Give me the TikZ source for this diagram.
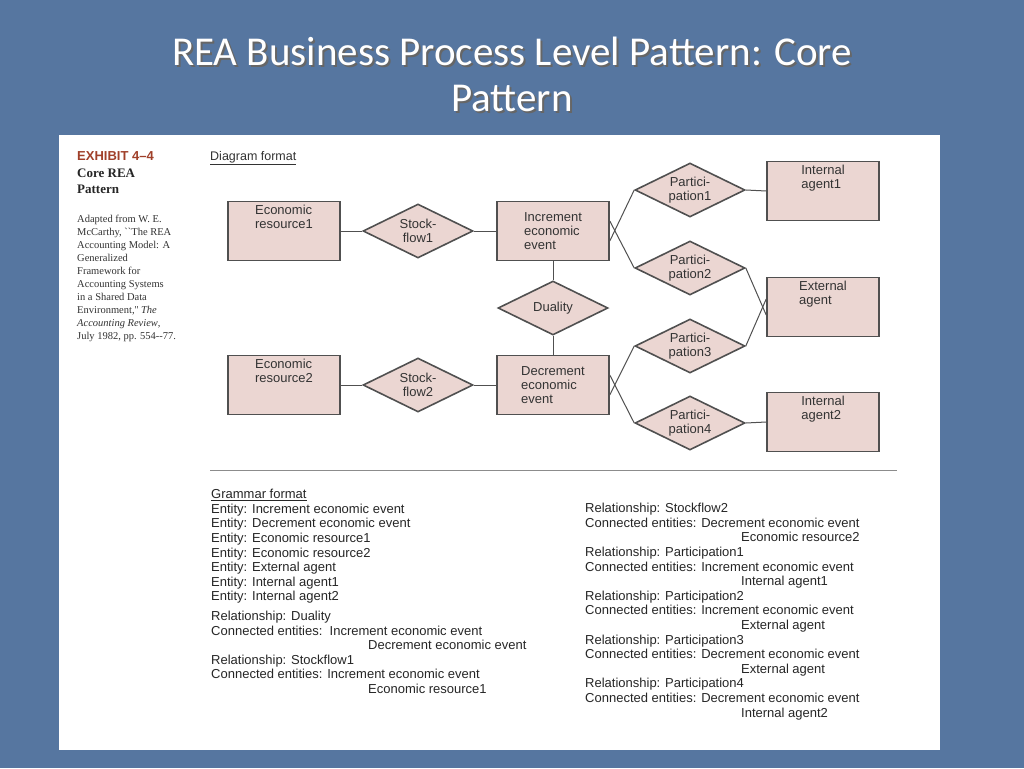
\documentclass[tikz,border=0pt]{standalone}
\usepackage{fontspec}
\setmainfont{Liberation Sans}
\newfontfamily\serifx{Liberation Serif}
\newfontfamily\titlef{Carlito}
\usetikzlibrary{shapes.geometric}
\definecolor{bg}{HTML}{5676A0}
\definecolor{boxfill}{HTML}{EBD6D2}
\definecolor{edge}{HTML}{505050}
\definecolor{exh}{HTML}{A0402A}
\tikzset{
 ent/.style={draw=edge,line width=1.6pt,fill=boxfill,minimum width=112pt,minimum height=59pt,align=left,font=\fontsize{13}{14}\selectfont,text=black!80,inner sep=0pt},
 rel/.style={draw=edge,line width=1.6pt,fill=boxfill,diamond,aspect=2,minimum width=110pt,minimum height=54pt,inner sep=0pt,align=center,font=\fontsize{13}{14}\selectfont,text=black!80},
 conn/.style={draw=edge,line width=1pt},
 gram/.style={anchor=west,font=\fontsize{13}{14.6}\selectfont,align=left,text=black!85,inner sep=0pt}
}
\begin{document}
\begin{tikzpicture}[x=1pt,y=-1pt]
\fill[bg] (0,0) rectangle (1024,768);
\useasboundingbox (0,0) rectangle (1024,768);
\node[text=black!60,font=\titlef\fontsize{41}{46}\selectfont,align=center] at (514,76) {REA Business Process Level Pattern: Core\\Pattern};
\node (title) [text=white,font=\titlef\fontsize{41}{46}\selectfont,align=center] at (512,74) {REA Business Process Level Pattern: Core\\Pattern};
\fill[white] (59,135) rectangle (940,750);
% side text
\node (exhibit) [anchor=north west,inner sep=0pt,text=exh,font=\bfseries\fontsize{13}{15}\selectfont] at (77,151) {EXHIBIT 4--4};
\node (core) [anchor=north west,inner sep=0pt,align=left,font=\serifx\bfseries\fontsize{13}{16}\selectfont,text=black!85] at (77,169) {Core REA\\Pattern};
\node (adapt) [anchor=north west,inner sep=0pt,align=left,font=\serifx\fontsize{10.5}{13}\selectfont,text=black!80] at (77,215) {Adapted from W. E.\\McCarthy, ``The REA\\Accounting Model: A\\Generalized\\Framework for\\Accounting Systems\\in a Shared Data\\Environment,'' \textit{The}\\\textit{Accounting Review},\\July 1982, pp. 554--77.};
\node (dfmt) [anchor=north west,inner sep=0pt,font=\fontsize{12.5}{14}\selectfont,text=black!80] at (210,151) {\underline{Diagram format}};
% entities
\node[ent] (er1) at (284,231) {Economic\\resource1\\[14pt]};
\node[ent] (inc) at (553,231) {Increment\\economic\\event};
\node[ent] (ia1) at (823,191) {Internal\\agent1\\[14pt]};
\node[ent] (ext) at (823,307) {External\\agent\\[14pt]};
\node[ent] (er2) at (284,385) {Economic\\resource2\\[14pt]};
\node[ent] (dec) at (553,385) {Decrement\\economic\\event};
\node[ent] (ia2) at (823,422) {Internal\\agent2\\[14pt]};
% relationships
\node[rel] (sf1) at (418,231) {Stock-\\flow1};
\node[rel] (dua) at (553,308) {Duality};
\node[rel] (sf2) at (418,385) {Stock-\\flow2};
\node[rel] (p1) at (690,190) {Partici-\\pation1};
\node[rel] (p2) at (690,268) {Partici-\\pation2};
\node[rel] (p3) at (690,346) {Partici-\\pation3};
\node[rel] (p4) at (690,423) {Partici-\\pation4};
% connectors
\draw[conn] (er1) -- (sf1) -- (inc);
\draw[conn] (er2) -- (sf2) -- (dec);
\draw[conn] (inc) -- (dua) -- (dec);
\draw[conn] ([yshift=-10pt]inc.east) -- (p1.west);
\draw[conn] ([yshift=10pt]inc.east) -- (p2.west);
\draw[conn] ([yshift=-10pt]dec.east) -- (p3.west);
\draw[conn] ([yshift=10pt]dec.east) -- (p4.west);
\draw[conn] (p1.east) -- (ia1.west);
\draw[conn] (p2.east) -- ([yshift=-8pt]ext.west);
\draw[conn] (p3.east) -- ([yshift=8pt]ext.west);
\draw[conn] (p4.east) -- (ia2.west);
\draw[draw=black!45,line width=0.8pt] (210,470) -- (897,470);
% grammar
\node[gram,anchor=north west] (gl) at (211,489) {\underline{Grammar format}\\
Entity: Increment economic event\\
Entity: Decrement economic event\\
Entity: Economic resource1\\
Entity: Economic resource2\\
Entity: External agent\\
Entity: Internal agent1\\
Entity: Internal agent2\\[5pt]
Relationship: Duality\\
Connected entities:\ \ Increment economic event\\
\hspace*{157pt}Decrement economic event\\
Relationship: Stockflow1\\
Connected entities: Increment economic event\\
\hspace*{157pt}Economic resource1};
\node[gram,anchor=north west] (gr) at (585,503) {Relationship: Stockflow2\\
Connected entities: Decrement economic event\\
\hspace*{156pt}Economic resource2\\
Relationship: Participation1\\
Connected entities: Increment economic event\\
\hspace*{156pt}Internal agent1\\
Relationship: Participation2\\
Connected entities: Increment economic event\\
\hspace*{156pt}External agent\\
Relationship: Participation3\\
Connected entities: Decrement economic event\\
\hspace*{156pt}External agent\\
Relationship: Participation4\\
Connected entities: Decrement economic event\\
\hspace*{156pt}Internal agent2};
\end{tikzpicture}
\end{document}
